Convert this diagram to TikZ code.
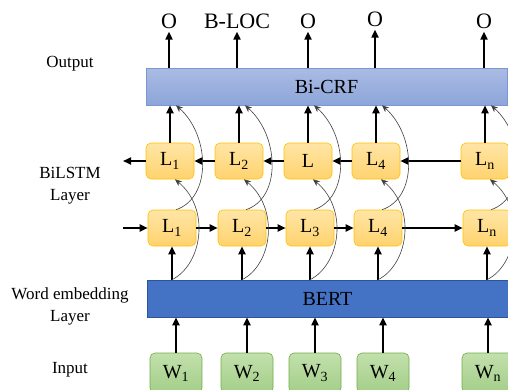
\documentclass[tikz,border=0pt]{standalone}
\usepackage{fontspec}
\setmainfont{Liberation Serif}
\usetikzlibrary{arrows.meta}
\definecolor{lstmtop}{HTML}{FFE5A6}
\definecolor{lstmbot}{HTML}{FFD36E}
\definecolor{lstmborder}{HTML}{FFC000}
\definecolor{wtop}{HTML}{C2E0AC}
\definecolor{wbot}{HTML}{A3CE88}
\definecolor{wborder}{HTML}{70AD47}
\definecolor{bertfill}{HTML}{4472C4}
\definecolor{bertborder}{HTML}{2F5597}
\definecolor{crftop}{HTML}{ABBBE3}
\definecolor{crfbot}{HTML}{8CA5DA}
\definecolor{crfborder}{HTML}{7A96D3}
\definecolor{curvegray}{HTML}{404040}
\begin{document}
\begin{tikzpicture}[x=1pt,y=-1pt,
  lbox/.style={draw=lstmborder, line width=0.6pt, rounded corners=5pt,
    top color=lstmtop, bottom color=lstmbot, minimum width=48pt,
    minimum height=36pt, inner sep=0pt, font=\fontsize{20}{22}\selectfont},
  wbox/.style={draw=wborder, line width=0.6pt, rounded corners=5pt,
    top color=wtop, bottom color=wbot, minimum width=52pt,
    minimum height=40pt, inner sep=0pt, font=\fontsize{20}{22}\selectfont},
  wide/.style={minimum width=361pt, minimum height=37pt, inner sep=0pt,
    font=\fontsize{20}{22}\selectfont},
  thickarrow/.style={line width=1.8pt, -{Triangle[length=8pt,width=7pt]}},
  thinarrow/.style={draw=curvegray, line width=0.6pt, -{Stealth[length=7pt,width=6pt]}},
  sidelabel/.style={align=center, font=\fontsize{17}{22}\selectfont},
  outlabel/.style={inner sep=0pt, font=\fontsize{22}{24}\selectfont}
]
\useasboundingbox (0,0) rectangle (508,389);

% side labels
\node[sidelabel] (lout) at (70,64) {Output};
\node[sidelabel] (lbil) at (70,186) {BiLSTM\\Layer};
\node[sidelabel] (lemb) at (70,306) {Word embedding\\Layer};
\node[sidelabel] (linp) at (70,370) {Input};

% wide layers
\node[wide, draw=crfborder, line width=0.6pt, top color=crftop, bottom color=crfbot] (crf) at (326.5,86.5) {Bi-CRF};
\node[wide, draw=bertborder, line width=0.6pt, fill=bertfill] (bert) at (327.5,298.5) {BERT};

% input words
\node[wbox] (w1) at (176,373) {W\textsubscript{1}};
\node[wbox] (w2) at (247,373) {W\textsubscript{2}};
\node[wbox] (w3) at (315,373) {W\textsubscript{3}};
\node[wbox] (w4) at (383,373) {W\textsubscript{4}};
\node[wbox] (w5) at (488,373) {W\textsubscript{n}};

% forward LSTM
\node[lbox] (f1) at (172,228) {L\textsubscript{1}};
\node[lbox] (f2) at (242,228) {L\textsubscript{2}};
\node[lbox] (f3) at (310,228) {L\textsubscript{3}};
\node[lbox] (f4) at (378,228) {L\textsubscript{4}};
\node[lbox] (f5) at (487,228) {L\textsubscript{n}};

% backward LSTM
\node[lbox] (b1) at (170,161) {L\textsubscript{1}};
\node[lbox] (b2) at (239,161) {L\textsubscript{2}};
\node[lbox] (b3) at (308,161) {L};
\node[lbox] (b4) at (376,161) {L\textsubscript{4}};
\node[lbox] (b5) at (485,161) {L\textsubscript{n}};

% outputs
\node[outlabel] (o1) at (169,21) {O};
\node[outlabel] (o2) at (237,21) {B-LOC};
\node[outlabel] (o3) at (308,21) {O};
\node[outlabel] (o4) at (375,19) {O};
\node[outlabel] (o5) at (484,21) {O};

\coordinate (fin) at (123,228);
\coordinate (bout) at (123,161);

% thick arrows
\foreach \i in {1,...,5}{
  \draw[thickarrow] (w\i.north) -- (w\i.north |- bert.south);
  \draw[thickarrow] (f\i.south |- bert.north) -- (f\i.south);
  \draw[thickarrow] (b\i.north) -- (b\i.north |- crf.south);
  \draw[thickarrow] (o\i.south |- crf.north) -- ([yshift=-3pt]o\i.south);
}
\draw[thickarrow] (fin) -- (f1.west);
\draw[thickarrow] (f1.east) -- (f2.west);
\draw[thickarrow] (f2.east) -- (f3.west);
\draw[thickarrow] (f3.east) -- (f4.west);
\draw[thickarrow] (f4.east) -- (f5.west);
\draw[thickarrow] (b5.west) -- (b4.east);
\draw[thickarrow] (b4.west) -- (b3.east);
\draw[thickarrow] (b3.west) -- (b2.east);
\draw[thickarrow] (b2.west) -- (b1.east);
\draw[thickarrow] (b1.west) -- (bout);

% thin skip curves
\foreach \i in {1,...,5}{
  \draw[thinarrow] (bert.north -| f\i) .. controls +(30,-15) and +(36,30) .. ([xshift=5pt]b\i.south);
  \draw[thinarrow] ([xshift=4pt]f\i.north) .. controls +(36,-12) and +(34,30) .. ([xshift=6pt]b\i.north |- crf.south);
}
\end{tikzpicture}
\end{document}
